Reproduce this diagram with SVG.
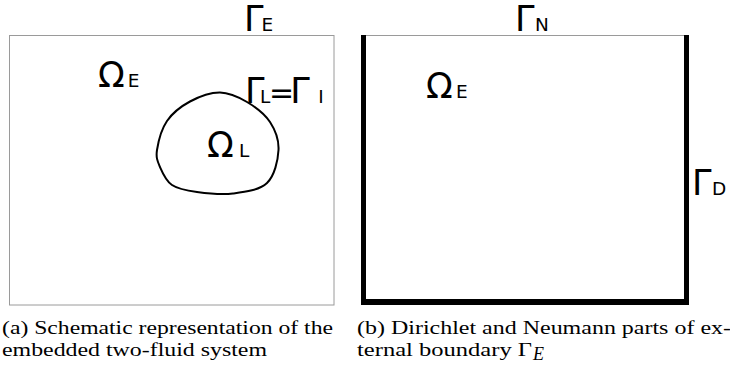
<svg xmlns="http://www.w3.org/2000/svg" width="730" height="372" viewBox="0 0 730 372">
<style>
.sym{font-family:"DejaVu Sans",sans-serif;font-size:35px;fill:#000}
.sub{font-size:18.5px}
.cap{font-family:"Liberation Serif",serif;font-size:18px;fill:#000}
.thin{fill:none;stroke:#9a9a9a;stroke-width:1}
.thick{fill:none;stroke:#000}
</style>
<rect width="730" height="372" fill="#fff"/>
<g id="panel-a">
  <rect class="thin" x="9.5" y="35.5" width="324.5" height="269.5"/>
  <g id="omegaL-region">
    <path d="M157,150 C158.2,142.3 161.5,129.1 167,121 C172.5,112.9 181.2,106.25 190,101.5 C198.8,96.75 210.5,92.4 220,92.5 C229.5,92.6 238.7,97.1 247,102 C255.3,106.9 264.75,114 270,122 C275.25,130 279,139.8 278.5,150 C278,160.2 274.6,175.75 267,183 C259.4,190.25 244.7,192 233,193.5 C221.3,195 207.2,193.4 197,192 C186.8,190.6 178.2,189.2 172,185 C165.8,180.8 162.5,172.8 160,167 C157.5,161.2 155.8,157.7 157,150 Z" fill="none" stroke="#000" stroke-width="2"/>
  </g>
  <g id="label-GammaE">
    <text class="sym" x="244" y="31">Γ<tspan class="sub" dx="-2">E</tspan></text>
  </g>
  <g id="label-OmegaE-a">
    <text class="sym" x="98" y="87">Ω<tspan class="sub" dx="3">E</tspan></text>
  </g>
  <g id="label-GammaL">
    <text class="sym" x="245" y="103">Γ<tspan class="sub" dx="-4.4">L</tspan><tspan font-size="30" dx="-1.3">=</tspan><tspan dx="-4">Γ</tspan><tspan class="sub" dx="8.6">I</tspan></text>
  </g>
  <g id="label-OmegaL">
    <text class="sym" x="207" y="157">Ω<tspan class="sub" dx="5.3">L</tspan></text>
  </g>
</g>
<g id="panel-b">
  <line class="thin" x1="366" y1="35.5" x2="685" y2="35.5"/>
  <line class="thick" x1="363.5" y1="35" x2="363.5" y2="305" stroke-width="5"/>
  <line class="thick" x1="686.5" y1="35" x2="686.5" y2="305" stroke-width="5"/>
  <line class="thick" x1="361" y1="302" x2="689" y2="302" stroke-width="6"/>
  <g id="label-GammaN">
    <text class="sym" x="515" y="31">Γ<tspan class="sub" dx="0.6">N</tspan></text>
  </g>
  <g id="label-OmegaE-b">
    <text class="sym" x="426" y="98">Ω<tspan class="sub" dx="3.3">E</tspan></text>
  </g>
  <g id="label-GammaD">
    <text class="sym" x="692" y="195">Γ<tspan class="sub" dx="0.6">D</tspan></text>
  </g>
</g>
<g id="captions">
  <text class="cap" x="2" y="334" textLength="331" lengthAdjust="spacingAndGlyphs">(a) Schematic representation of the</text>
  <text class="cap" x="2" y="356" textLength="265" lengthAdjust="spacingAndGlyphs">embedded two-fluid system</text>
  <text class="cap" x="357" y="334" textLength="374" lengthAdjust="spacingAndGlyphs">(b) Dirichlet and Neumann parts of ex-</text>
  <text class="cap" x="357" y="356" textLength="175" lengthAdjust="spacingAndGlyphs">ternal boundary Γ</text>
  <text class="cap" x="533" y="360" font-size="14" font-style="italic">E</text>
</g>
</svg>
